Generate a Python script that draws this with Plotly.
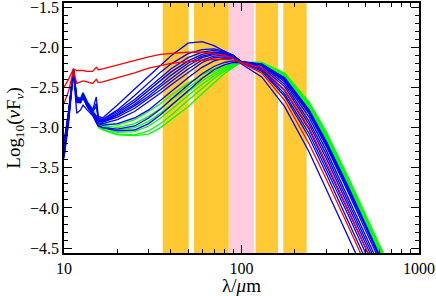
import plotly.graph_objects as go

# wavelength grid (micron)
lam = [10, 10.6, 11.3, 11.8, 12.4, 12.8, 13.5, 14.5, 15.2, 15.6, 16.5, 20, 25, 30, 35, 40,
       50, 60, 70, 80, 90, 100, 130, 175, 240, 300, 400, 500, 650, 800]

red_1 = [-2.50, -2.40, -2.27, -2.29, -2.29, -2.29, -2.30, -2.30, -2.25, -2.28,
         -2.27, -2.22, -2.17, -2.12, -2.09, -2.08, -2.06, -2.06, -2.08, -2.10, -2.14,
         -2.20, -2.32, -2.66, -3.20, -3.64, -4.23, -4.70, -5.26, -5.70]
red_2 = [-2.70, -2.55, -2.29, -2.45, -2.43, -2.42, -2.43, -2.45, -2.40, -2.44,
         -2.43, -2.38, -2.32, -2.26, -2.23, -2.20, -2.18, -2.16, -2.15, -2.15, -2.16,
         -2.19, -2.26, -2.53, -3.00, -3.43, -4.01, -4.48, -5.03, -5.47]

blue_1 = [-3.22, -2.82, -2.27, -2.62, -2.64, -2.57, -2.68, -2.78, -2.62, -2.86,
          -2.88, -2.72, -2.52, -2.36, -2.22, -2.11, -1.95, -1.93, -1.98, -2.05, -2.13,
          -2.21, -2.37, -2.74, -3.30, -3.75, -4.34, -4.81, -5.37, -5.81]
blue_2 = [-3.30, -2.86, -2.28, -2.64, -2.65, -2.58, -2.69, -2.79, -2.70, -2.88,
          -2.90, -2.78, -2.60, -2.44, -2.31, -2.21, -2.08, -2.03, -2.02, -2.05, -2.10,
          -2.19, -2.30, -2.61, -3.12, -3.57, -4.15, -4.62, -5.18, -5.62]
blue_3 = [-3.18, -2.80, -2.28, -2.66, -2.66, -2.59, -2.70, -2.80, -2.74, -2.89,
          -2.90, -2.80, -2.65, -2.50, -2.37, -2.27, -2.13, -2.06, -2.04, -2.06, -2.10,
          -2.19, -2.28, -2.58, -3.07, -3.51, -4.09, -4.56, -5.12, -5.56]
blue_4 = [-3.35, -2.90, -2.29, -2.65, -2.66, -2.60, -2.71, -2.81, -2.85, -2.90,
          -2.92, -2.82, -2.68, -2.54, -2.42, -2.31, -2.17, -2.09, -2.06, -2.07, -2.10,
          -2.19, -2.27, -2.54, -3.02, -3.46, -4.04, -4.50, -5.06, -5.50]
blue_5 = [-3.25, -2.84, -2.28, -2.67, -2.67, -2.60, -2.71, -2.81, -2.86, -2.91,
          -2.92, -2.84, -2.71, -2.58, -2.46, -2.35, -2.20, -2.11, -2.08, -2.08, -2.11,
          -2.18, -2.25, -2.49, -2.96, -3.38, -3.96, -4.42, -4.98, -5.42]
blue_6 = [-3.30, -2.87, -2.29, -2.66, -2.67, -2.61, -2.72, -2.82, -2.87, -2.92,
          -2.93, -2.85, -2.73, -2.61, -2.49, -2.39, -2.23, -2.13, -2.09, -2.09, -2.11,
          -2.18, -2.23, -2.46, -2.92, -3.33, -3.91, -4.37, -4.93, -5.37]
blue_7 = [-3.38, -2.92, -2.29, -2.68, -2.68, -2.61, -2.72, -2.82, -2.88, -2.92,
          -2.93, -2.87, -2.76, -2.64, -2.53, -2.43, -2.27, -2.16, -2.11, -2.10, -2.12,
          -2.18, -2.22, -2.43, -2.87, -3.28, -3.86, -4.32, -4.87, -5.32]
blue_8 = [-3.28, -2.86, -2.29, -2.67, -2.68, -2.62, -2.73, -2.83, -2.89, -2.94,
          -2.95, -2.90, -2.80, -2.68, -2.57, -2.47, -2.31, -2.19, -2.13, -2.12, -2.13,
          -2.18, -2.22, -2.41, -2.83, -3.23, -3.81, -4.26, -4.82, -5.26]
blue_9 = [-3.20, -2.82, -2.28, -2.68, -2.69, -2.62, -2.73, -2.83, -2.90, -2.95,
          -2.97, -2.95, -2.88, -2.78, -2.66, -2.55, -2.38, -2.25, -2.17, -2.14, -2.14,
          -2.18, -2.21, -2.40, -2.81, -3.21, -3.78, -4.23, -4.79, -5.23]
blue_10 = [-3.32, -2.88, -2.29, -2.69, -2.69, -2.63, -2.74, -2.84, -2.93, -2.97,
           -3.00, -3.02, -2.98, -2.88, -2.77, -2.65, -2.47, -2.33, -2.24, -2.19, -2.17,
           -2.19, -2.21, -2.39, -2.79, -3.19, -3.76, -4.21, -4.77, -5.21]
blue_11 = [-3.36, -2.95, -2.32, -2.82, -2.78, -2.72, -2.78, -2.85, -2.94, -2.98,
           -3.00, -3.04, -3.03, -2.95, -2.84, -2.73, -2.54, -2.39, -2.28, -2.22, -2.19,
           -2.19, -2.21, -2.38, -2.78, -3.17, -3.74, -4.20, -4.75, -5.19]

green_1 = [-3.24, -2.85, -2.29, -2.62, -2.63, -2.56, -2.67, -2.76, -2.86, -2.92,
           -2.95, -2.97, -2.90, -2.80, -2.70, -2.60, -2.45, -2.34, -2.27, -2.22, -2.20,
           -2.19, -2.20, -2.37, -2.76, -3.15, -3.72, -4.18, -4.73, -5.17]
green_2 = [-3.28, -2.87, -2.29, -2.63, -2.64, -2.57, -2.68, -2.77, -2.88, -2.93,
           -2.97, -3.00, -2.95, -2.86, -2.76, -2.66, -2.50, -2.38, -2.30, -2.24, -2.21,
           -2.19, -2.20, -2.36, -2.74, -3.13, -3.70, -4.15, -4.70, -5.14]
green_3 = [-3.32, -2.89, -2.30, -2.64, -2.65, -2.58, -2.69, -2.78, -2.89, -2.94,
           -2.98, -3.03, -3.00, -2.92, -2.82, -2.72, -2.55, -2.42, -2.33, -2.26, -2.22,
           -2.19, -2.20, -2.35, -2.73, -3.11, -3.68, -4.13, -4.68, -5.12]
green_4 = [-3.26, -2.86, -2.29, -2.64, -2.65, -2.58, -2.69, -2.79, -2.90, -2.96,
           -3.00, -3.06, -3.05, -2.98, -2.88, -2.78, -2.60, -2.46, -2.36, -2.28, -2.23,
           -2.19, -2.20, -2.34, -2.71, -3.09, -3.66, -4.11, -4.66, -5.11]
green_5 = [-3.30, -2.88, -2.30, -2.65, -2.66, -2.59, -2.70, -2.80, -2.92, -2.98,
           -3.02, -3.08, -3.09, -3.04, -2.95, -2.85, -2.66, -2.51, -2.39, -2.30, -2.24,
           -2.19, -2.19, -2.33, -2.70, -3.07, -3.64, -4.09, -4.64, -5.08]
green_6 = [-3.34, -2.90, -2.30, -2.66, -2.66, -2.60, -2.71, -2.81, -2.93, -3.00,
           -3.03, -3.09, -3.10, -3.08, -3.00, -2.90, -2.74, -2.58, -2.44, -2.33, -2.25,
           -2.19, -2.19, -2.32, -2.68, -3.05, -3.62, -4.07, -4.62, -5.06]

reds = [red_1, red_2]
blues = [blue_1, blue_2, blue_3, blue_4, blue_5, blue_6, blue_7, blue_8, blue_9, blue_10, blue_11]
greens = [green_1, green_2, green_3, green_4, green_5, green_6]

# filter bands (micron)
band_lo = [36, 54, 85, 120, 172]
band_hi = [50.4, 84.7, 117.5, 160.7, 232.8]
band_kind = ["orange", "orange", "pink", "orange", "orange"]

y_ticks = [-1.5, -2.0, -2.5, -3.0, -3.5, -4.0, -4.5]
y_ticklabels = ["\u22121.5", "\u22122.0", "\u22122.5", "\u22123.0", "\u22123.5", "\u22124.0", "\u22124.5"]
x_ticks = [10, 100, 1000]
x_ticklabels = ["10", "100", "1000"]
x_minor = [20, 30, 40, 50, 60, 70, 80, 90, 200, 300, 400, 500, 600, 700, 800, 900]

Y_MIN, Y_MAX = -4.56, -1.45
band_colors = {"orange": "#FFC933", "pink": "#FFCCE0"}

fig = go.Figure()
for lo, hi, kind in zip(band_lo, band_hi, band_kind):
    fig.add_trace(go.Scatter(x=[lo, hi, hi, lo, lo], y=[Y_MIN, Y_MIN, Y_MAX, Y_MAX, Y_MIN],
                             mode="lines", fill="toself", fillcolor=band_colors[kind],
                             line=dict(width=0), hoverinfo="skip", showlegend=False))

for series, col in [(greens, "#00FF00"), (blues, "#0000FF"), (reds, "#FF0000")]:
    for s in series:
        fig.add_trace(go.Scatter(x=lam, y=s, mode="lines",
                                 line=dict(color=col, width=1.3), showlegend=False))

font_family = "Liberation Serif"
fig.update_layout(
    width=436, height=296,
    margin=dict(l=64, r=17, t=3, b=43, autoexpand=False),
    paper_bgcolor="white", plot_bgcolor="white",
    font=dict(family=font_family, size=16, color="black"),
    showlegend=False,
)
fig.update_xaxes(type="log", range=[1, 3], tickvals=x_ticks, ticktext=x_ticklabels,
                 ticks="inside", ticklen=8, tickwidth=1, tickcolor="black",
                 minor=dict(ticks="inside", ticklen=4, tickcolor="black", tickvals=x_minor),
                 showline=True, linecolor="black", linewidth=1.5, mirror="ticks",
                 showgrid=False, zeroline=False, automargin=False, ticklabeloverflow="allow",
                 title=dict(text="\u03bb/<i>\u03bc</i>m", standoff=0, font=dict(size=19)))
fig.update_yaxes(range=[Y_MIN, Y_MAX], tickvals=y_ticks, ticktext=y_ticklabels,
                 ticks="inside", ticklen=8, tickwidth=1, tickcolor="black",
                 minor=dict(ticks="inside", ticklen=4, tickcolor="black", dtick=0.1),
                 showline=True, linecolor="black", linewidth=1.5, mirror="ticks",
                 showgrid=False, zeroline=False, automargin=False, ticklabeloverflow="allow",
                 title=dict(text="Log<sub>10</sub>(<i>\u03bd</i>F<sub><i>\u03bd</i></sub>)", standoff=4, font=dict(size=19)))

fig.write_html("out.html", config={"displayModeBar": False},
               post_script="document.body.style.margin='0px';document.body.style.padding='0px';")
